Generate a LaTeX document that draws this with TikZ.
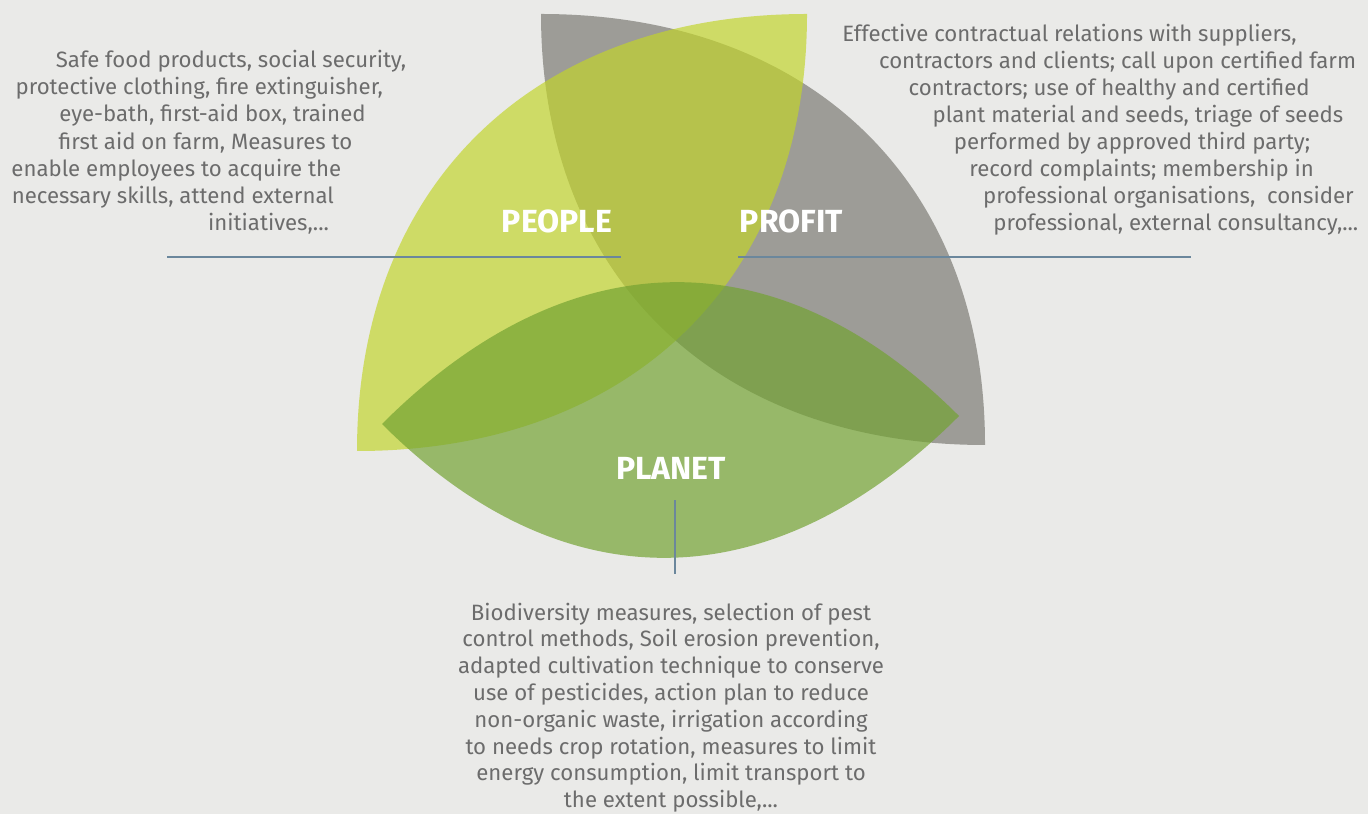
\documentclass[tikz,border=0pt]{standalone}
\usepackage{fontspec}
\setmainfont{Fira Sans}
\usepackage{tikz}
\definecolor{pppyellow}{RGB}{194,213,41}
\definecolor{pppgray}{RGB}{157,156,151}
\definecolor{pppgreen}{RGB}{114,162,49}
\definecolor{pppbg}{RGB}{234,234,232}
\definecolor{ppptext}{RGB}{108,108,108}
\definecolor{pppline}{RGB}{107,135,156}

\begin{document}
\begin{tikzpicture}[x=0.5pt,y=0.5pt,
    bodytext/.style={font=\fontsize{11.1}{13}\selectfont, text=ppptext, inner sep=0pt},
    pillar/.style={font=\fontsize{16}{19}\selectfont\bfseries, text=white, inner sep=0pt, anchor=base},
    rule/.style={draw=pppline, line width=1pt}]

    % Background
    \fill[pppbg] (0,0) rectangle (1368,814);

    % Leaf tips
    \coordinate (peopleA) at (357,363);
    \coordinate (peopleB) at (807,800);
    \coordinate (profitA) at (541,800);
    \coordinate (profitB) at (985,369);
    \coordinate (planetA) at (382,390);
    \coordinate (planetB) at (959,398);

    % Leaves
    \fill[pppgray] (profitA) to[out=0,in=90,looseness=1.1] (profitB)
        to[out=180,in=270,looseness=1.1] (profitA) -- cycle;
    \fill[pppyellow,opacity=0.68] (peopleA) to[out=90,in=180,looseness=1.1] (peopleB)
        to[out=270,in=0,looseness=1.1] (peopleA) -- cycle;
    \fill[pppgreen,opacity=0.69] (planetA) to[out=45,in=135,looseness=1.15] (planetB)
        to[out=225,in=-45,looseness=1.15] (planetA) -- cycle;

    % Labels
    \node[pillar] (people) at (557,581.3) {PEOPLE};
    \node[pillar] (profit) at (791.4,581.3) {PROFIT};
    \node[pillar] (planet) at (671,334.7) {PLANET};

    % Rules
    \coordinate (peopleRuleW) at (167,557);
    \coordinate (peopleRuleE) at (621,557);
    \coordinate (profitRuleW) at (738,557);
    \coordinate (profitRuleE) at (1191,557);
    \coordinate (planetRuleN) at (675,314);
    \coordinate (planetRuleS) at (675,240);
    \draw[rule] (peopleRuleW) -- (peopleRuleE);
    \draw[rule] (profitRuleW) -- (profitRuleE);
    \draw[rule] (planetRuleN) -- (planetRuleS);

    % People text
    \foreach \y/\x/\txt [count=\row] in {
        746.5/406.7/{Safe food products, social security,},
        719.3/383.3/{protective clothing, fire extinguisher,},
        692.1/366/{eye-bath, first-aid box, trained},
        664.9/352.7/{first aid on farm, Measures to},
        637.7/341.7/{enable employees to acquire the},
        610.5/334.3/{necessary skills, attend external},
        583.3/329.3/{initiatives,...}}
        \node[bodytext, anchor=base east] (peopletext\row) at (\x,\y) {\txt};

    % Profit text
    \foreach \y/\x/\txt [count=\row] in {
        772.5/842/{Effective contractual relations with suppliers,},
        745.5/878.7/{contractors and clients; call upon certified farm},
        718.5/908.2/{contractors; use of healthy and certified},
        691.5/932.3/{plant material and seeds, triage of seeds},
        664.5/953.5/{performed by approved third party;},
        637.5/969/{record complaints; membership in},
        610.5/982.7/{professional organisations, \ consider},
        583.5/993/{professional, external consultancy,...}}
        \node[bodytext, anchor=base west] (profittext\row) at (\x,\y) {\txt};

    % Planet text
    \foreach \y/\txt [count=\row] in {
        194/{Biodiversity measures, selection of pest},
        167.2/{control methods, Soil erosion prevention,},
        140.4/{adapted cultivation technique to conserve},
        113.6/{use of pesticides, action plan to reduce},
        86.8/{non-organic waste, irrigation according},
        60/{to needs crop rotation, measures to limit},
        33.2/{energy consumption, limit transport to},
        6.4/{the extent possible,...}}
        \node[bodytext, anchor=base] (planettext\row) at (671,\y) {\txt};
\end{tikzpicture}
\end{document}
